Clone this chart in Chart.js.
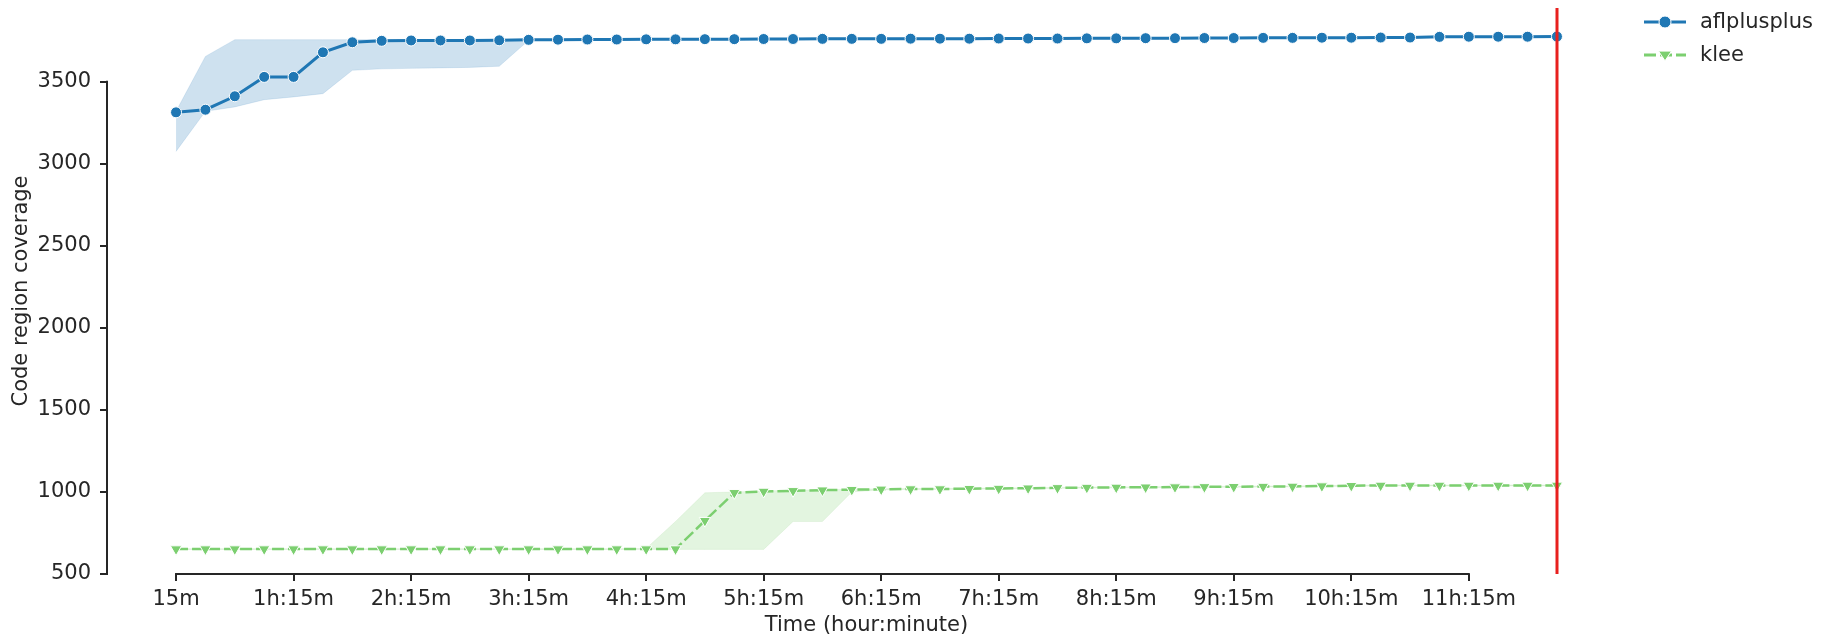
<!DOCTYPE html>
<html>
<head>
<meta charset="utf-8">
<title>Code region coverage over time</title>
<script src="https://cdn.jsdelivr.net/npm/chart.js@4.4.1/dist/chart.umd.min.js"></script>
<style>
  html, body { margin: 0; padding: 0; background: #ffffff; }
  canvas { display: block; }
</style>
</head>
<body>
<canvas id="chart" width="1826" height="638"></canvas>
<script>
// Sample times (minutes since start), one every 15 minutes
const minutes = [15,30,45,60,75,90,105,120,135,150,165,180,195,210,225,240,255,270,285,300,315,330,345,360,
                 375,390,405,420,435,450,465,480,495,510,525,540,555,570,585,600,615,630,645,660,675,690,705,720];

// aflplusplus: mean coverage and confidence band
const aflMean = [3314,3330,3412,3530,3530,3680,3741,3750,3752,3752,3752,3753,3756,3757,3758,3758,
                 3759,3759,3760,3760,3761,3761,3762,3762,3762,3763,3763,3763,3764,3764,3764,3765,
                 3765,3766,3766,3767,3767,3768,3768,3769,3769,3770,3770,3774,3775,3775,3775,3776];
const aflUpper = [3320,3655,3757,3757,3757,3757,3757,3757,3757,3757,3757,3757,3759,3760,3761,3761,
                  3762,3762,3763,3763,3764,3764,3765,3765,3765,3766,3766,3766,3767,3767,3767,3768,
                  3768,3769,3769,3770,3770,3771,3771,3772,3772,3773,3773,3777,3778,3778,3778,3779];
const aflLower = [3076,3320,3347,3391,3408,3428,3570,3579,3582,3585,3588,3595,3753,3754,3755,3755,
                  3756,3756,3757,3757,3758,3758,3759,3759,3759,3760,3760,3760,3761,3761,3761,3762,
                  3762,3763,3763,3764,3764,3765,3765,3766,3766,3767,3767,3771,3772,3772,3772,3773];

// klee: mean coverage and confidence band
const kleeMean = [652,652,652,652,652,652,652,652,652,652,652,652,652,652,652,652,
                  652,652,825,995,1003,1007,1011,1014,1016,1018,1018,1020,1021,1023,1025,1027,
                  1028,1029,1030,1031,1032,1033,1034,1036,1038,1040,1040,1040,1040,1040,1040,1040];
const kleeUpper = [654,654,654,654,654,654,654,654,654,654,654,654,654,654,654,654,
                   656,820,995,1000,1006,1010,1014,1017,1019,1021,1021,1023,1024,1026,1028,1030,
                   1031,1032,1033,1034,1035,1036,1037,1039,1041,1043,1043,1043,1043,1043,1043,1043];
const kleeLower = [650,650,650,650,650,650,650,650,650,650,650,650,650,650,650,650,
                   650,650,650,650,650,820,820,1000,1013,1015,1015,1017,1018,1020,1022,1024,
                   1025,1026,1027,1028,1029,1030,1031,1033,1035,1037,1037,1037,1037,1037,1037,1037];

// Axis ticks
const xTickMinutes = [15,75,135,195,255,315,375,435,495,555,615,675];
const xTickLabels = ['15m','1h:15m','2h:15m','3h:15m','4h:15m','5h:15m','6h:15m','7h:15m','8h:15m','9h:15m','10h:15m','11h:15m'];
const yTicks = [500,1000,1500,2000,2500,3000,3500];

// End of the campaign, marked with a vertical line
const campaignEnd = 720;

const BLUE = '#1f77b4';
const GREEN = '#7ccf70';
const INK = '#262626';
const FONT_SIZE = 21;

const pts = (ys) => ys.map((y, i) => ({ x: minutes[i], y }));

Chart.defaults.font.family = "'DejaVu Sans', sans-serif";
Chart.defaults.font.size = FONT_SIZE;
Chart.defaults.color = INK;

// Trimmed axis lines running from the first to the last tick
const spines = {
  id: 'spines',
  beforeDatasetsDraw(chart) {
    const { ctx, chartArea, scales: { x, y } } = chart;
    ctx.save();
    ctx.strokeStyle = INK;
    ctx.lineWidth = 2;
    ctx.lineCap = 'butt';
    ctx.beginPath();
    ctx.moveTo(x.getPixelForValue(xTickMinutes[0]) - 1, chartArea.bottom);
    ctx.lineTo(x.getPixelForValue(xTickMinutes[xTickMinutes.length - 1]) + 1, chartArea.bottom);
    ctx.moveTo(chartArea.left, y.getPixelForValue(yTicks[0]) + 1);
    ctx.lineTo(chartArea.left, y.getPixelForValue(yTicks[yTicks.length - 1]) - 1);
    ctx.stroke();
    ctx.restore();
  }
};

const endLine = {
  id: 'endLine',
  afterDatasetsDraw(chart) {
    const { ctx, chartArea, scales: { x } } = chart;
    const px = Math.round(x.getPixelForValue(campaignEnd));
    ctx.save();
    ctx.strokeStyle = '#e8201e';
    ctx.lineWidth = 3;
    ctx.beginPath();
    ctx.moveTo(px, chartArea.top);
    ctx.lineTo(px, chartArea.bottom);
    ctx.stroke();
    ctx.restore();
  }
};

function drawMarker(ctx, kind, cx, cy, color) {
  ctx.save();
  ctx.fillStyle = color;
  ctx.strokeStyle = '#ffffff';
  ctx.lineWidth = 1;
  ctx.setLineDash([]);
  ctx.beginPath();
  if (kind === 'circle') {
    ctx.arc(cx, cy, 6, 0, Math.PI * 2);
  } else {
    const r = 6.5;
    ctx.moveTo(cx - r, cy - r * 0.6);
    ctx.lineTo(cx + r, cy - r * 0.6);
    ctx.lineTo(cx, cy + r * 0.9);
    ctx.closePath();
  }
  ctx.fill();
  ctx.stroke();
  ctx.restore();
}

// Legend placed to the right of the plot
const sideLegend = {
  id: 'sideLegend',
  afterDraw(chart) {
    const { ctx, chartArea } = chart;
    const entries = [
      { label: 'aflplusplus', color: BLUE, marker: 'circle', dash: [] },
      { label: 'klee', color: GREEN, marker: 'triangle', dash: [12, 4] }
    ];
    const x0 = chartArea.right + 18;
    const x1 = x0 + 42;
    let yy = chartArea.top + 14;
    ctx.save();
    ctx.font = FONT_SIZE + "px 'DejaVu Sans', sans-serif";
    ctx.textBaseline = 'middle';
    ctx.textAlign = 'left';
    entries.forEach(e => {
      ctx.strokeStyle = e.color;
      ctx.lineWidth = 3;
      ctx.setLineDash(e.dash);
      ctx.beginPath();
      ctx.moveTo(x0, yy);
      ctx.lineTo(x1, yy);
      ctx.stroke();
      drawMarker(ctx, e.marker, (x0 + x1) / 2, yy, e.color);
      ctx.fillStyle = INK;
      ctx.fillText(e.label, x1 + 14, yy + 1);
      yy += 33;
    });
    ctx.restore();
  }
};

new Chart(document.getElementById('chart'), {
  type: 'line',
  data: {
    datasets: [
      { label: 'afl-lower', data: pts(aflLower), borderColor: 'rgba(31,119,180,0.12)', borderWidth: 1,
        pointRadius: 0, fill: false, order: 3 },
      { label: 'afl-upper', data: pts(aflUpper), borderColor: 'rgba(31,119,180,0.12)', borderWidth: 1,
        pointRadius: 0, fill: { target: 0 }, backgroundColor: 'rgba(31,119,180,0.22)', order: 3 },
      { label: 'klee-lower', data: pts(kleeLower), borderColor: 'rgba(120,200,110,0.12)', borderWidth: 1,
        pointRadius: 0, fill: false, order: 3 },
      { label: 'klee-upper', data: pts(kleeUpper), borderColor: 'rgba(120,200,110,0.12)', borderWidth: 1,
        pointRadius: 0, fill: { target: 2 }, backgroundColor: 'rgba(140,215,125,0.24)', order: 3 },
      { label: 'aflplusplus', data: pts(aflMean), borderColor: BLUE, borderWidth: 3,
        pointStyle: 'circle', pointRadius: 5.5, pointBackgroundColor: BLUE,
        pointBorderColor: '#ffffff', pointBorderWidth: 1, fill: false, order: 0 },
      { label: 'klee', data: pts(kleeMean), borderColor: GREEN, borderWidth: 2.5, borderDash: [12, 4],
        pointStyle: 'triangle', rotation: 180, pointRadius: 6.5, pointBackgroundColor: GREEN,
        pointBorderColor: '#ffffff', pointBorderWidth: 1, fill: false, order: 1 }
    ]
  },
  options: {
    responsive: false,
    animation: false,
    events: [],
    layout: { padding: { top: 8, right: 200, bottom: 0, left: 0 } },
    plugins: {
      legend: { display: false },
      tooltip: { enabled: false },
      title: { display: false }
    },
    elements: { line: { tension: 0 } },
    scales: {
      x: {
        type: 'linear',
        min: -20.25,
        max: 755.25,
        border: { display: false },
        grid: { display: true, drawOnChartArea: false, drawTicks: true, tickLength: 7, color: INK, lineWidth: 2 },
        afterBuildTicks: (scale) => { scale.ticks = xTickMinutes.map(v => ({ value: v })); },
        ticks: {
          autoSkip: false, maxRotation: 0, padding: 6, color: INK,
          callback: (v) => { const i = xTickMinutes.indexOf(v); return i >= 0 ? xTickLabels[i] : ''; }
        },
        title: { display: true, text: 'Time (hour:minute)', color: INK, padding: { top: 0, bottom: 0 } },
        afterFit: (scale) => { scale.height = 64; scale.paddingLeft = 0; scale.paddingRight = 0; }
      },
      y: {
        type: 'linear',
        min: 500,
        max: 3950,
        border: { display: false },
        grid: { display: true, drawOnChartArea: false, drawTicks: true, tickLength: 7, color: INK, lineWidth: 2 },
        afterBuildTicks: (scale) => { scale.ticks = yTicks.map(v => ({ value: v })); },
        ticks: { padding: 9, color: INK, callback: (v) => String(v) },
        title: { display: true, text: 'Code region coverage', color: INK, padding: { top: 9, bottom: 0 } },
        afterFit: (scale) => { scale.width = 107; scale.paddingTop = 0; scale.paddingBottom = 0; }
      }
    }
  },
  plugins: [spines, endLine, sideLegend]
});
</script>
</body>
</html>
